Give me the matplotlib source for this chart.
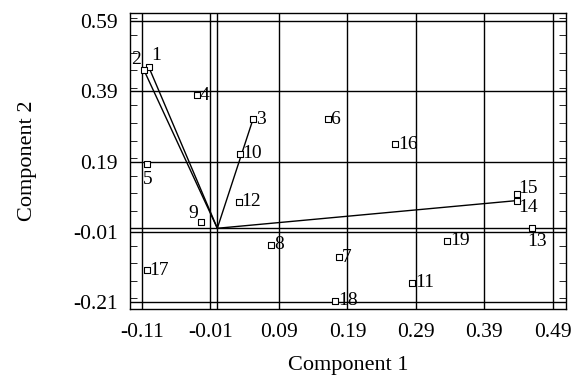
import matplotlib.pyplot as plt
from matplotlib.ticker import MultipleLocator

plt.rcParams['font.family'] = ['Liberation Serif', 'DejaVu Serif']

# scores
labels = ["1", "2", "3", "4", "5", "6", "7", "8", "9", "10",
          "11", "12", "13", "14", "15", "16", "17", "18", "19"]
comp1 = [-0.100, -0.107, 0.052, -0.030, -0.103, 0.161, 0.177, 0.079, -0.024, 0.033,
         0.285, 0.031, 0.459, 0.438, 0.438, 0.260, -0.103, 0.172, 0.336]
comp2 = [0.459, 0.450, 0.310, 0.379, 0.182, 0.311, -0.083, -0.047, 0.019, 0.213,
         -0.155, 0.076, 0.002, 0.079, 0.097, 0.239, -0.120, -0.207, -0.035]
# points joined to the origin
vectors = ["1", "2", "3", "14"]

xticks = [-0.11, -0.01, 0.09, 0.19, 0.29, 0.39, 0.49]
yticks = [-0.21, -0.01, 0.19, 0.39, 0.59]

# label offsets in points (dx, dy, ha, va)
offsets = {
    "2": (-2, 2, "right", "bottom"),
    "1": (2, 2, "left", "bottom"),
    "5": (-3, -5, "left", "top"),
    "9": (-2, 0, "right", "bottom"),
    "13": (-3, -4, "left", "top"),
    "14": (1, 1, "left", "top"),
    "15": (1, -2, "left", "bottom"),
}

fig = plt.figure(figsize=(5.71, 3.75), dpi=100)
ax = fig.add_axes([0.2277, 0.176, 0.7633, 0.789])

ax.set_xlim(-0.1275, 0.509)
ax.set_ylim(-0.23, 0.613)

for x in xticks:
    ax.axvline(x, color="black", lw=1.0, zorder=1)
for y in yticks:
    ax.axhline(y, color="black", lw=1.0, zorder=1)
ax.axvline(0, color="black", lw=1.0, zorder=1)
ax.axhline(0, color="black", lw=1.0, zorder=1)

for name in vectors:
    i = labels.index(name)
    ax.plot([0, comp1[i]], [0, comp2[i]], color="black", lw=1.0, zorder=2)

ax.scatter(comp1, comp2, marker="s", s=16, facecolor="white",
           edgecolor="black", linewidths=0.8, zorder=3)

for name, x, y in zip(labels, comp1, comp2):
    dx, dy, ha, va = offsets.get(name, (2, 0, "left", "center"))
    ax.annotate(name, (x, y), xytext=(dx, dy), textcoords="offset points",
                ha=ha, va=va, fontsize=14, zorder=4)

ax.set_xticks(xticks)
ax.set_xticklabels([f"{v:.2f}" for v in xticks])
ax.set_yticks(yticks)
ax.set_yticklabels([f"{v:.2f}" for v in yticks])
ax.yaxis.set_minor_locator(MultipleLocator(0.05))
ax.tick_params(axis="x", length=0, labelsize=15.5, pad=10)
ax.tick_params(axis="y", which="both", direction="in", left=True, right=True,
               labelsize=15.5, length=0, pad=9)
ax.tick_params(axis="y", which="minor", length=5)

for s in ax.spines.values():
    s.set_linewidth(1.0)

ax.set_xlabel("Component 1", fontsize=16, labelpad=10)
ax.set_ylabel("Component 2", fontsize=16, labelpad=26)

fig.savefig("out.png", dpi=100)
